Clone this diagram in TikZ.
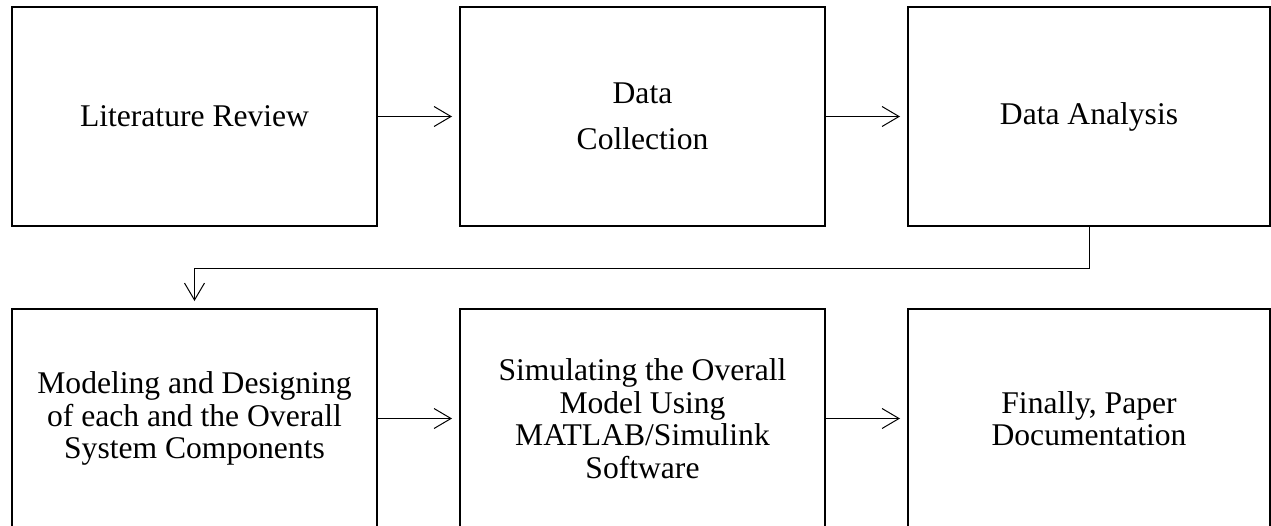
\documentclass[tikz,border=0pt]{standalone}
\usepackage{fontspec}
\setmainfont{Liberation Serif}
\usetikzlibrary{arrows.meta}
\begin{document}
\begin{tikzpicture}[x=1pt,y=-1pt,
  stage/.style={draw=black, line width=2pt, rectangle, inner sep=0pt,
    minimum width=365pt, minimum height=219pt, align=center,
    font=\fontsize{31.6}{32.5}\selectfont},
  arr/.style={line width=1pt, -{Straight Barb[length=17pt,width=20pt]}, shorten >=7pt}]
  \useasboundingbox (0,0) rectangle (1271,525);
  % top row
  \node[stage] (b1) at (194.5,116.5) {Literature Review};
  \node[stage] (b2) at (642.5,116.5) {Data\\[13pt]Collection};
  \node[stage, minimum width=362pt] (b3) at (1089,116.5) {Data Analysis};
  % bottom row
  \node[stage] (b4) at (194.5,418.5) {Modeling and Designing\\of each and the Overall\\System Components};
  \node[stage] (b5) at (642.5,418.5) {Simulating the Overall\\Model Using\\MATLAB/Simulink\\Software};
  \node[stage, minimum width=362pt] (b6) at (1089,418.5) {Finally, Paper\\Documentation};
  % connectors
  \draw[arr] (b1.east) -- (b2.west);
  \draw[arr] (b2.east) -- (b3.west);
  \draw[arr] (b3.south) -- ++(0,41) -| (b4.north);
  \draw[arr] (b4.east) -- (b5.west);
  \draw[arr] (b5.east) -- (b6.west);
\end{tikzpicture}
\end{document}
